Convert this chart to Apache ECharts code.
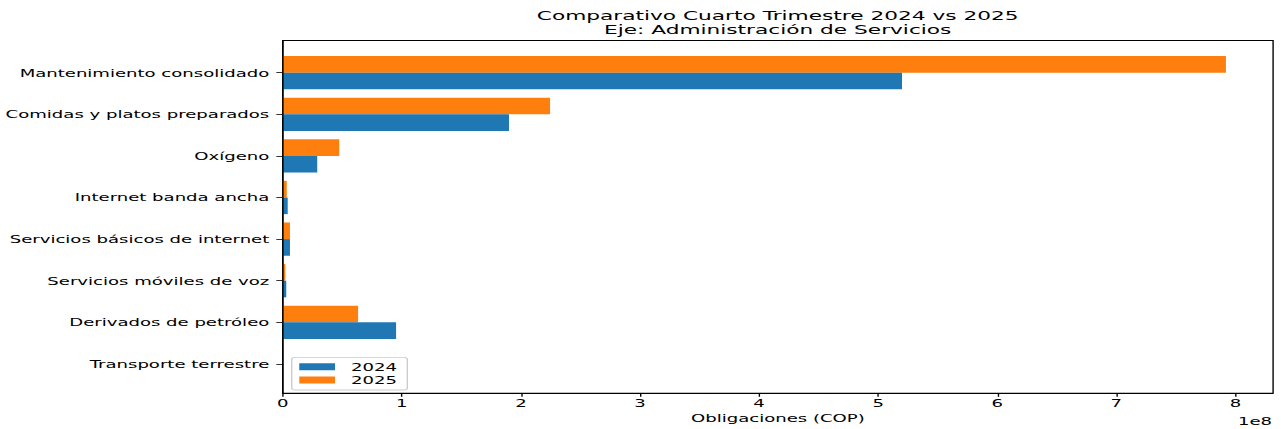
<!DOCTYPE html>
<html>
<head>
<meta charset="utf-8">
<script src="https://cdn.jsdelivr.net/npm/echarts@6/dist/echarts.min.js"></script>
<style>
  html, body { margin: 0; padding: 0; background: #fff; overflow: hidden; width: 1281px; height: 429px; }
  #chart { height: 429px; transform-origin: 0 0; }
</style>
</head>
<body>
<div id="chart"></div>
<script>
// ---- data ----
const categories = [
  'Mantenimiento consolidado',
  'Comidas y platos preparados',
  'Oxígeno',
  'Internet banda ancha',
  'Servicios básicos de internet',
  'Servicios móviles de voz',
  'Derivados de petróleo',
  'Transporte terrestre'
];
const values2024 = [5.20e8, 1.90e8, 0.29e8, 0.042e8, 0.061e8, 0.030e8, 0.952e8, 0];
const values2025 = [7.92e8, 2.245e8, 0.475e8, 0.034e8, 0.061e8, 0.022e8, 0.633e8, 0];
const xTicks = [0, 1e8, 2e8, 3e8, 4e8, 5e8, 6e8, 7e8, 8e8];
const xTickLabels = ['0', '1', '2', '3', '4', '5', '6', '7', '8'];
const seriesNames = ['2024', '2025'];
const titleLines = ['Comparativo Cuarto Trimestre 2024 vs 2025', 'Eje: Administración de Servicios'];
const xAxisName = 'Obligaciones (COP)';
const offsetText = '1e8';

// ---- layout (reference picture is horizontally stretched) ----
const S = 1.72;
const W = 1281 / S;
const px = x => x / S;
const FONT = 'DejaVu Sans';
const plotL = 282.7, plotR = 1272.7, plotT = 40.5, plotB = 397.3;
const catStep = 41.6;
const firstCenter = 72.7;
const barsTop = firstCenter - catStep / 2;
const barsBottom = barsTop + catStep * categories.length;
const xMax = Math.max(...values2024, ...values2025) * 1.05;

const el = document.getElementById('chart');
el.style.width = W + 'px';
el.style.transform = 'scaleX(' + S + ')';

const chart = echarts.init(el, null, { renderer: 'svg' });
chart.setOption({
  animation: false,
  backgroundColor: '#fff',
  title: {
    text: titleLines.join('\n'),
    left: px((plotL + plotR) / 2),
    top: 9,
    textAlign: 'center',
    padding: 0,
    textStyle: { fontFamily: FONT, fontSize: 12.6, fontWeight: 'normal', color: '#000', lineHeight: 14 }
  },
  legend: {
    data: seriesNames,
    orient: 'vertical',
    left: px(291.7),
    top: 357.3,
    icon: 'rect',
    itemWidth: 20.8,
    itemHeight: 7,
    itemGap: 2.3,
    padding: [3.9, 6, 4.5, 4.4],
    backgroundColor: 'rgba(255,255,255,0.8)',
    borderColor: '#cccccc',
    borderWidth: 0.8,
    borderRadius: 2,
    textStyle: { fontFamily: FONT, fontSize: 10.5, color: '#000', lineHeight: 11, padding: [0, 0, 0, 4.3] }
  },
  grid: [
    { left: px(plotL), right: W - px(plotR), top: barsTop, bottom: 429 - barsBottom },
    { left: px(plotL), right: W - px(plotR), top: plotT, bottom: 429 - plotB,
      show: true, borderColor: '#000', borderWidth: 0.8, backgroundColor: 'transparent' }
  ],
  xAxis: [
    { gridIndex: 0, type: 'value', min: 0, max: xMax, show: false },
    { gridIndex: 1, type: 'value', min: 0, max: xMax, interval: 1e8, z: 10,
      splitLine: { show: false },
      axisLine: { show: true, lineStyle: { color: '#000', width: 0.8 } },
      axisTick: { show: true, length: 3.7, customValues: xTicks, lineStyle: { color: '#000', width: 0.8 } },
      axisLabel: { show: true, customValues: xTicks, margin: 4,
        formatter: v => { const i = xTicks.indexOf(v); return i >= 0 ? xTickLabels[i] : ''; },
        fontFamily: FONT, fontSize: 10.5, color: '#000' },
      name: xAxisName, nameLocation: 'middle', nameGap: 18,
      nameTextStyle: { fontFamily: FONT, fontSize: 10.5, color: '#000' }
    }
  ],
  yAxis: [
    { gridIndex: 0, type: 'category', data: categories, inverse: true,
      axisLine: { show: false },
      axisTick: { show: true, alignWithLabel: true, length: 3.7, lineStyle: { color: '#000', width: 0.8 } },
      axisLabel: { margin: 7.8, fontFamily: FONT, fontSize: 10.5, color: '#000' },
      splitLine: { show: false }
    },
    { gridIndex: 1, type: 'value', min: 0, max: 1, z: 10,
      axisLine: { show: true, lineStyle: { color: '#000', width: 0.8 } },
      axisTick: { show: false }, axisLabel: { show: false }, splitLine: { show: false }
    }
  ],
  series: [
    { name: seriesNames[1], type: 'bar', xAxisIndex: 0, yAxisIndex: 0, data: values2025,
      barWidth: catStep * 0.4, barGap: '0%', itemStyle: { color: '#ff7f0e' } },
    { name: seriesNames[0], type: 'bar', xAxisIndex: 0, yAxisIndex: 0, data: values2024,
      barWidth: catStep * 0.4, barGap: '0%', itemStyle: { color: '#1f77b4' } }
  ],
  graphic: [
    { type: 'text', x: px(1272), y: 421,
      style: { text: offsetText, align: 'right', verticalAlign: 'middle', fontFamily: FONT, fontSize: 10.5, fill: '#000' } }
  ]
});
</script>
</body>
</html>
